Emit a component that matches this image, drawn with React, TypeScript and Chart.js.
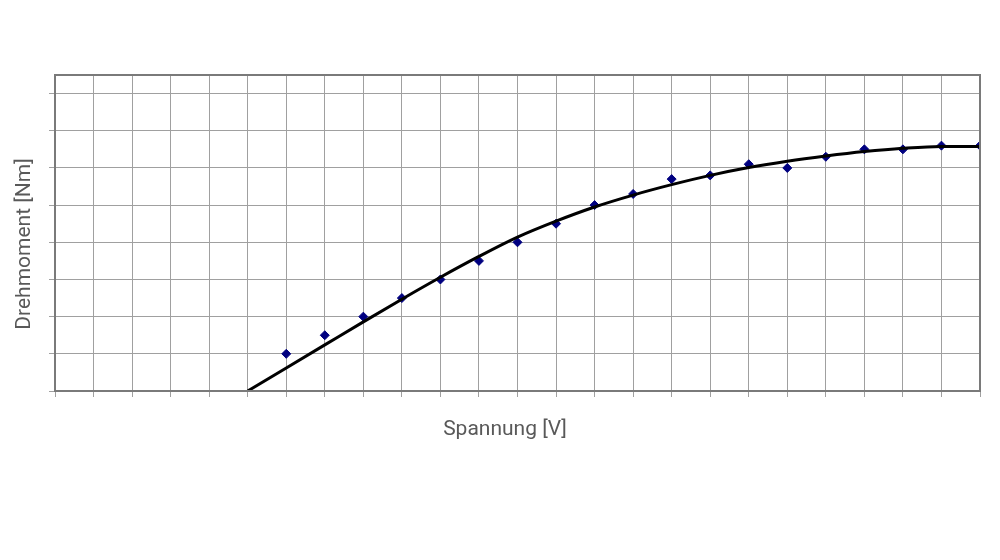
import React, { useEffect, useRef } from 'react';
import { Chart, registerables } from 'chart.js';

Chart.register(...registerables);

const measuredVoltage = [6, 7, 8, 9, 10, 11, 12, 13, 14, 15, 16, 17, 18, 19, 20, 21, 22, 23, 24];
const measuredTorque = [1.0, 1.5, 2.0, 2.5, 3.0, 3.5, 4.0, 4.5, 5.0, 5.3, 5.7, 5.8, 6.1, 6.0, 6.3, 6.5, 6.5, 6.6, 6.6];

const trendVoltage = [5, 6, 7, 8, 9, 10, 11, 12, 13, 14, 15, 16, 17, 18, 19, 20, 21, 22, 23, 24];
const trendTorque = [0, 0.62, 1.24, 1.86, 2.47, 3.06, 3.62, 4.14, 4.57, 4.95, 5.27, 5.55, 5.8, 6.01, 6.18, 6.32, 6.44, 6.53, 6.58, 6.58];

const xTitle = 'Spannung [V]';
const yTitle = 'Drehmoment [Nm]';

const axisTitles = {
  id: 'axisTitles',
  afterDraw(chart: any) {
    const ctx = chart.ctx;
    ctx.save();
    ctx.fillStyle = '#595959';
    ctx.font = '21px Roboto';
    ctx.textAlign = 'center';
    ctx.textBaseline = 'middle';
    ctx.fillText(xTitle, 505, 430);
    ctx.translate(25, 244);
    ctx.rotate(-Math.PI / 2);
    ctx.fillText(yTitle, 0, 0);
    ctx.restore();
  },
};

const frame = {
  id: 'frame',
  afterDatasetsDraw(chart: any) {
    const { ctx, chartArea } = chart;
    ctx.save();
    ctx.strokeStyle = '#7a7a7a';
    ctx.lineWidth = 2;
    ctx.strokeRect(chartArea.left, chartArea.top, chartArea.right - chartArea.left, chartArea.bottom - chartArea.top);
    ctx.restore();
  },
};

export default function App() {
  const ref = useRef<HTMLCanvasElement>(null);
  useEffect(() => {
    const chart = new Chart(ref.current!, {
      type: 'scatter',
      data: {
        datasets: [
          {
            label: 'Trend',
            data: trendVoltage.map((x, i) => ({ x, y: trendTorque[i] })),
            showLine: true,
            borderColor: '#000000',
            backgroundColor: '#000000',
            borderWidth: 3,
            pointRadius: 0,
            cubicInterpolationMode: 'monotone',
            order: 0,
          },
          {
            label: 'Messwerte',
            data: measuredVoltage.map((x, i) => ({ x, y: measuredTorque[i] })),
            showLine: false,
            backgroundColor: '#000080',
            borderColor: '#000080',
            pointStyle: 'rectRot',
            pointRadius: 4.5,
            order: 1,
          },
        ],
      },
      options: {
        animation: false,
        responsive: false,
        layout: { padding: { top: 75, right: 20, left: 0, bottom: 0 } },
        plugins: { legend: { display: false }, tooltip: { enabled: false } },
        scales: {
          x: {
            type: 'linear',
            min: 0,
            max: 24,
            ticks: { stepSize: 1, display: false },
            grid: { color: '#a0a0a0', lineWidth: 1, tickLength: 6 },
            border: { color: '#7a7a7a', width: 2 },
            afterFit: (s: any) => { s.height = 169; },
          },
          y: {
            type: 'linear',
            min: 0,
            max: 8.5,
            ticks: { stepSize: 1, display: false },
            afterBuildTicks: (s: any) => { s.ticks = s.ticks.filter((t: any) => t.value <= 8); },
            grid: { color: '#a0a0a0', lineWidth: 1, tickLength: 6 },
            border: { color: '#7a7a7a', width: 2 },
            afterFit: (s: any) => { s.width = 55; },
          },
        },
      },
      plugins: [frame, axisTitles],
    });
    return () => chart.destroy();
  }, []);
  return (
    <div style={{ position: 'absolute', left: 0, top: 0, width: 1000, height: 560, background: '#fff' }}>
      <canvas ref={ref} width={1000} height={560} style={{ display: 'block' }} />
    </div>
  );
}
